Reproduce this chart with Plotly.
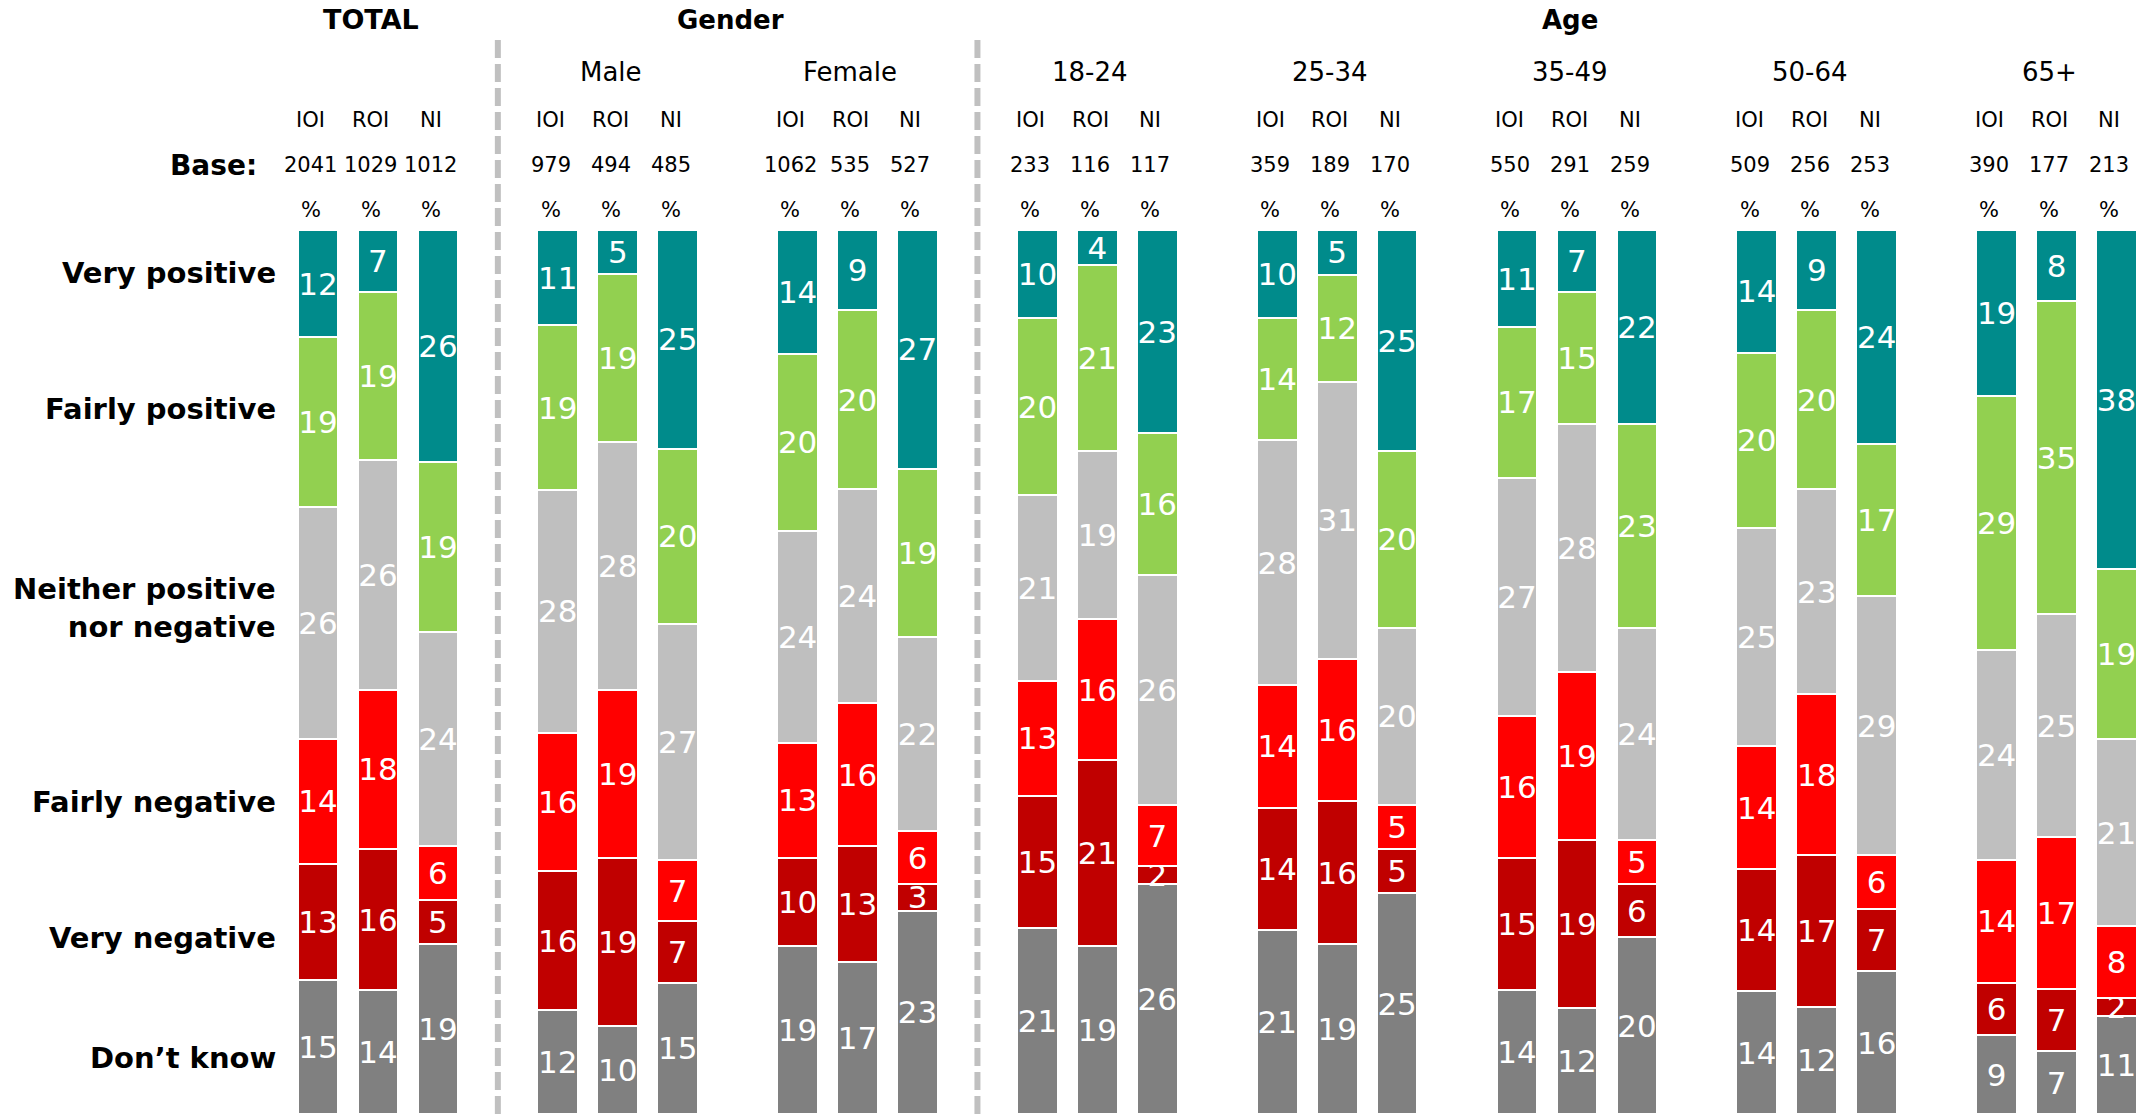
import plotly.graph_objects as go

# ---------------- data ----------------
groups = ["TOTAL", "Male", "Female", "18-24", "25-34", "35-49", "50-64", "65+"]
sub_labels = ["IOI", "ROI", "NI"]
bases = [2041, 1029, 1012, 979, 494, 485, 1062, 535, 527, 233, 116, 117,
         359, 189, 170, 550, 291, 259, 509, 256, 253, 390, 177, 213]

very_positive = [12, 7, 26, 11, 5, 25, 14, 9, 27, 10, 4, 23,
                 10, 5, 25, 11, 7, 22, 14, 9, 24, 19, 8, 38]
fairly_positive = [19, 19, 19, 19, 19, 20, 20, 20, 19, 20, 21, 16,
                   14, 12, 20, 17, 15, 23, 20, 20, 17, 29, 35, 19]
neither = [26, 26, 24, 28, 28, 27, 24, 24, 22, 21, 19, 26,
           28, 31, 20, 27, 28, 24, 25, 23, 29, 24, 25, 21]
fairly_negative = [14, 18, 6, 16, 19, 7, 13, 16, 6, 13, 16, 7,
                   14, 16, 5, 16, 19, 5, 14, 18, 6, 14, 17, 8]
very_negative = [13, 16, 5, 16, 19, 7, 10, 13, 3, 15, 21, 2,
                 14, 16, 5, 15, 19, 6, 14, 17, 7, 6, 7, 2]
dont_know = [15, 14, 19, 12, 10, 15, 19, 17, 23, 21, 19, 26,
             21, 19, 25, 14, 12, 20, 14, 12, 16, 9, 7, 11]

row_labels = ["Very positive", "Fairly positive", "Neither positive<br>nor negative",
              "Fairly negative", "Very negative", "Don\u2019t know"]

# ---------------- layout constants ----------------
W, H = 2138, 1116
TOP, BOT = 230, 2
X0_PX, UNIT_PX = 318, 59.95
FONT = "DejaVu Sans"

def py(p):  # pixel row -> paper y
    return (H - BOT - p) / (H - TOP - BOT)

def pxp(p):  # pixel column -> paper x
    return p / W

xpos = [4 * g + b for g in range(len(groups)) for b in range(3)]

series = [  # bottom to top
    (row_labels[5], dont_know, "#808080"),
    (row_labels[4], very_negative, "#C00000"),
    (row_labels[3], fairly_negative, "#FF0000"),
    ("Neither", neither, "#BFBFBF"),
    (row_labels[1], fairly_positive, "#92D050"),
    (row_labels[0], very_positive, "#008B8B"),
]

fig = go.Figure()
for name, vals, col in series:
    fig.add_trace(go.Bar(
        x=xpos, y=vals, name=name, width=0.68,
        marker=dict(color=col, line=dict(color="white", width=2)),
        text=[str(v) for v in vals], textposition="inside",
        insidetextanchor="middle", textangle=0, constraintext="none",
        textfont=dict(family=FONT, size=31, color="white"),
        hoverinfo="skip",
    ))

ann = []
hdr_off = -0.12
# top headers
ann.append(dict(x=1 + hdr_off, y=py(20), text="<b>TOTAL</b>", font=dict(size=27)))
ann.append(dict(x=7 + hdr_off, y=py(20), text="<b>Gender</b>", font=dict(size=26)))
ann.append(dict(x=21 + hdr_off, y=py(20), text="<b>Age</b>", font=dict(size=26)))
for g, name in enumerate(groups[1:], start=1):
    ann.append(dict(x=4 * g + 1 + hdr_off, y=py(72), text=name, font=dict(size=26)))
for i, x in enumerate(xpos):
    ann.append(dict(x=x + hdr_off, y=py(120), text=sub_labels[i % 3], font=dict(size=21)))
    ann.append(dict(x=x + hdr_off, y=py(165), text=str(bases[i]), font=dict(size=21)))
    ann.append(dict(x=x + hdr_off, y=py(210), text="%", font=dict(size=21)))
for a in ann:
    a.update(xref="x", yref="paper", showarrow=False, xanchor="center", yanchor="middle")
    a["font"].update(family=FONT, color="black")

ann.append(dict(x=pxp(259), y=py(165), xref="paper", yref="paper", text="<b>Base:</b>",
                showarrow=False, xanchor="right", yanchor="middle",
                font=dict(family=FONT, size=28, color="black")))
row_py = [273, 409, 608, 802, 938, 1058]
for lab, p in zip(row_labels, row_py):
    ann.append(dict(x=pxp(278), y=py(p), xref="paper", yref="paper", text="<b>" + lab + "</b>",
                    showarrow=False, xanchor="right", yanchor="middle", align="right",
                    font=dict(family=FONT, size=29, color="black")))

shapes = []
for xv in (3, 11):
    shapes.append(dict(type="line", xref="x", yref="paper", x0=xv, x1=xv,
                       y0=py(40), y1=py(H), line=dict(color="#C0C0C0", width=6, dash="18px,6px")))

fig.update_layout(
    width=W, height=H,
    margin=dict(l=0, r=0, t=TOP, b=BOT, pad=0),
    barmode="stack", barnorm="percent",
    showlegend=False,
    plot_bgcolor="white", paper_bgcolor="white",
    xaxis=dict(range=[-X0_PX / UNIT_PX, (W - X0_PX) / UNIT_PX], visible=False, fixedrange=True),
    yaxis=dict(range=[0, 100], visible=False, fixedrange=True),
    annotations=ann, shapes=shapes,
    font=dict(family=FONT),
)

fig.write_html("out.html", post_script="document.body.style.margin='0';",
               config={"displayModeBar": False})
